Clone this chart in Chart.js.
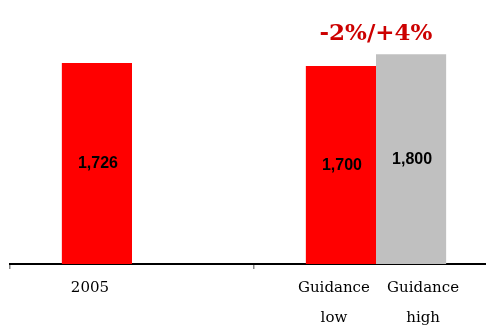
<!DOCTYPE html>
<html>
<head>
<meta charset="utf-8">
<script src="https://cdn.jsdelivr.net/npm/chart.js@4/dist/chart.umd.min.js"></script>
<style>
  html, body { margin: 0; padding: 0; background: #fff; overflow: hidden; }
  #wrap { width: 500px; height: 326px; }
</style>
</head>
<body>
<div id="wrap"><canvas id="c" width="500" height="326"></canvas></div>
<script>
// Categories and series
const categories = ['2005', 'Guidance'];
const lowValues = [1726, 1700];
const highValues = [null, 1800];
const lowLabels = [['2005'], ['Guidance', 'low']];
const highLabels = [null, ['Guidance', 'high']];
const rangeText = '-2%/+4%';

const fmt = v => v.toLocaleString('en-US');

// Value labels inside bars, category names under the bars, range note on top
const annotate = {
  id: 'annotate',
  afterDatasetsDraw(chart) {
    const ctx = chart.ctx;
    const area = chart.chartArea;
    const xScale = chart.scales.x;
    ctx.save();
    ctx.textAlign = 'center';
    ctx.textBaseline = 'middle';
    chart.data.datasets.forEach((ds, di) => {
      const meta = chart.getDatasetMeta(di);
      meta.data.forEach((bar, i) => {
        const v = ds.data[i];
        if (v == null) return;
        const p = bar.getProps(['x', 'y', 'base'], true);
        ctx.fillStyle = '#000';
        ctx.font = 'bold 16px Arial, sans-serif';
        ctx.fillText(fmt(v), p.x + 1, (p.y + p.base) / 2 + 0.5);
        const lines = ds.names[i];
        if (lines) {
          ctx.font = '15px "DejaVu Serif", Georgia, serif';
          ctx.fillStyle = '#000';
          const dx = di === 0 ? -7 : 12;
          lines.forEach((t, k) => {
            ctx.fillText(t, p.x + dx, area.bottom + 24 + k * 30);
          });
        }
      });
    });
    // range note above the guidance group
    ctx.font = 'bold 23px "DejaVu Serif", Georgia, serif';
    ctx.fillStyle = '#cc0000';
    ctx.fillText(rangeText, xScale.getPixelForValue(1), 34);
    ctx.restore();
  }
};

new Chart(document.getElementById('c'), {
  type: 'bar',
  data: {
    labels: categories,
    datasets: [
      { data: lowValues, names: lowLabels, backgroundColor: '#ff0000', borderWidth: 0 },
      { data: highValues, names: highLabels, backgroundColor: '#c0c0c0', borderWidth: 0 }
    ]
  },
  options: {
    responsive: false,
    animation: false,
    devicePixelRatio: 1,
    categoryPercentage: 0.575,
    barPercentage: 1,
    layout: { padding: { left: 10, right: 2, top: 31, bottom: 57 } },
    plugins: { legend: { display: false }, tooltip: { enabled: false } },
    scales: {
      x: {
        grid: { display: true, offset: true, drawOnChartArea: false, drawTicks: true, tickLength: 5, color: '#888', lineWidth: 1.5 },
        border: { display: true, color: '#000', width: 2 },
        ticks: { display: false }
      },
      y: {
        display: false,
        min: 0,
        max: 2000
      }
    }
  },
  plugins: [annotate]
});
</script>
</body>
</html>
